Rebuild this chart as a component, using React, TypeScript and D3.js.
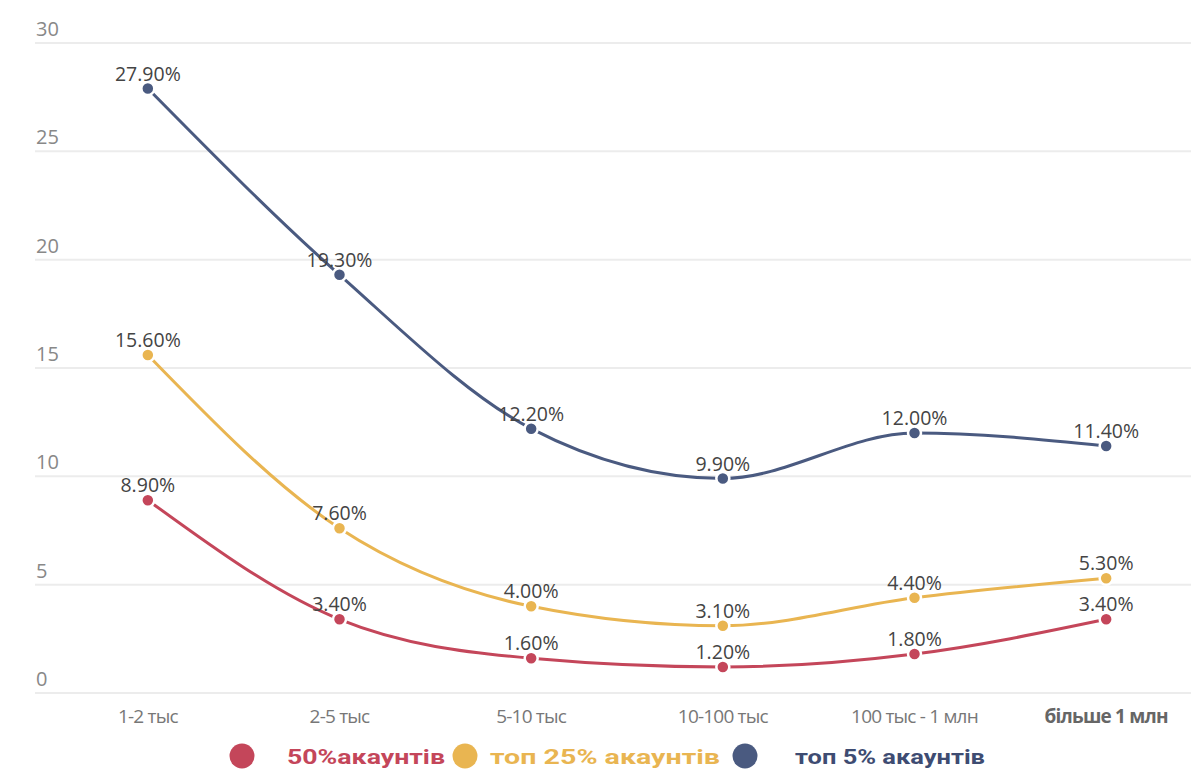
import React, { useEffect, useRef } from "react";
import * as d3 from "d3";

const categories = ["1-2 тыс", "2-5 тыс", "5-10 тыс", "10-100 тыс", "100 тыс - 1 млн", "більше 1 млн"];
const top5 = [27.9, 19.3, 12.2, 9.9, 12.0, 11.4];
const top25 = [15.6, 7.6, 4.0, 3.1, 4.4, 5.3];
const half = [8.9, 3.4, 1.6, 1.2, 1.8, 3.4];
const yTicks = [0, 5, 10, 15, 20, 25, 30];

const seriesNames = ["50%акаунтів", "топ 25% акаунтів", "топ 5% акаунтів"];
const colors = ["#c4465a", "#e9b551", "#4a5a80"];
const textColors = ["#c4465a", "#e9b551", "#3e4c72"];

const W = 1191;
const H = 774;

export default function App() {
  const ref = useRef<SVGSVGElement>(null);

  useEffect(() => {
    const svg = d3.select(ref.current);
    svg.selectAll("*").remove();

    const x = d3.scalePoint<string>().domain(categories).range([52, 1202]).padding(0.5);
    const y = d3.scaleLinear().domain([0, 30]).range([693, 43]);

    // gridlines + y labels
    const grid = svg.append("g");
    yTicks.forEach((t) => {
      grid.append("line")
        .attr("x1", 35).attr("x2", W)
        .attr("y1", y(t)).attr("y2", y(t))
        .attr("stroke", "#ececec").attr("stroke-width", 2);
      grid.append("text")
        .attr("x", 36).attr("y", y(t) - 7)
        .attr("font-family", "Open Sans, sans-serif")
        .attr("font-size", 20)
        .attr("fill", "#888")
        .text(t);
    });

    // x labels
    svg.append("g").selectAll("text")
      .data(categories)
      .enter().append("text")
      .attr("x", (d) => x(d)!)
      .attr("y", 723)
      .attr("text-anchor", "middle")
      .attr("font-family", "Open Sans, sans-serif")
      .attr("font-size", 19)
      .attr("letter-spacing", -0.8)
      .attr("font-weight", (d, i) => (i === 5 ? 700 : 400))
      .attr("fill", (d, i) => (i === 5 ? "#666" : "#777"))
      .text((d) => d);

    const all = [half, top25, top5];
    const line = d3.line<number>()
      .x((d, i) => x(categories[i])!)
      .y((d) => y(d))
      .curve(d3.curveMonotoneX);

    // lines (back to front: top5 first)
    [2, 1, 0].forEach((s) => {
      svg.append("path")
        .attr("d", line(all[s]))
        .attr("fill", "none")
        .attr("stroke", colors[s])
        .attr("stroke-width", 3);
    });

    [2, 1, 0].forEach((s) => {
      const g = svg.append("g");
      g.selectAll("circle")
        .data(all[s])
        .enter().append("circle")
        .attr("cx", (d, i) => x(categories[i])!)
        .attr("cy", (d) => y(d))
        .attr("r", 6.5)
        .attr("fill", colors[s])
        .attr("stroke", "#fff")
        .attr("stroke-width", 2.5);
      g.selectAll("text")
        .data(all[s])
        .enter().append("text")
        .attr("x", (d, i) => x(categories[i])!)
        .attr("y", (d) => y(d) - 8)
        .attr("text-anchor", "middle")
        .attr("font-family", "Open Sans, sans-serif")
        .attr("font-size", 19.5)
        .attr("fill", "#444")
        .text((d) => d.toFixed(2) + "%");
    });

    // legend
    const legendX = [242, 465, 745];
    const textStart = [287, 490, 795];
    const textWidth = [158, 230, 190];
    const legend = svg.append("g");
    seriesNames.forEach((name, i) => {
      legend.append("circle")
        .attr("cx", legendX[i]).attr("cy", 756)
        .attr("r", 12.5).attr("fill", colors[i]);
      legend.append("text")
        .attr("x", textStart[i]).attr("y", 764)
        .attr("font-family", "Roboto, Arial, sans-serif")
        .attr("font-weight", 700)
        .attr("font-size", 21)
        .attr("textLength", textWidth[i])
        .attr("lengthAdjust", "spacingAndGlyphs")
        .attr("fill", textColors[i])
        .text(name);
    });
  }, []);

  return (
    <svg
      ref={ref}
      width={W}
      height={H}
      style={{ position: "absolute", left: 0, top: 0, background: "#fff" }}
    />
  );
}
